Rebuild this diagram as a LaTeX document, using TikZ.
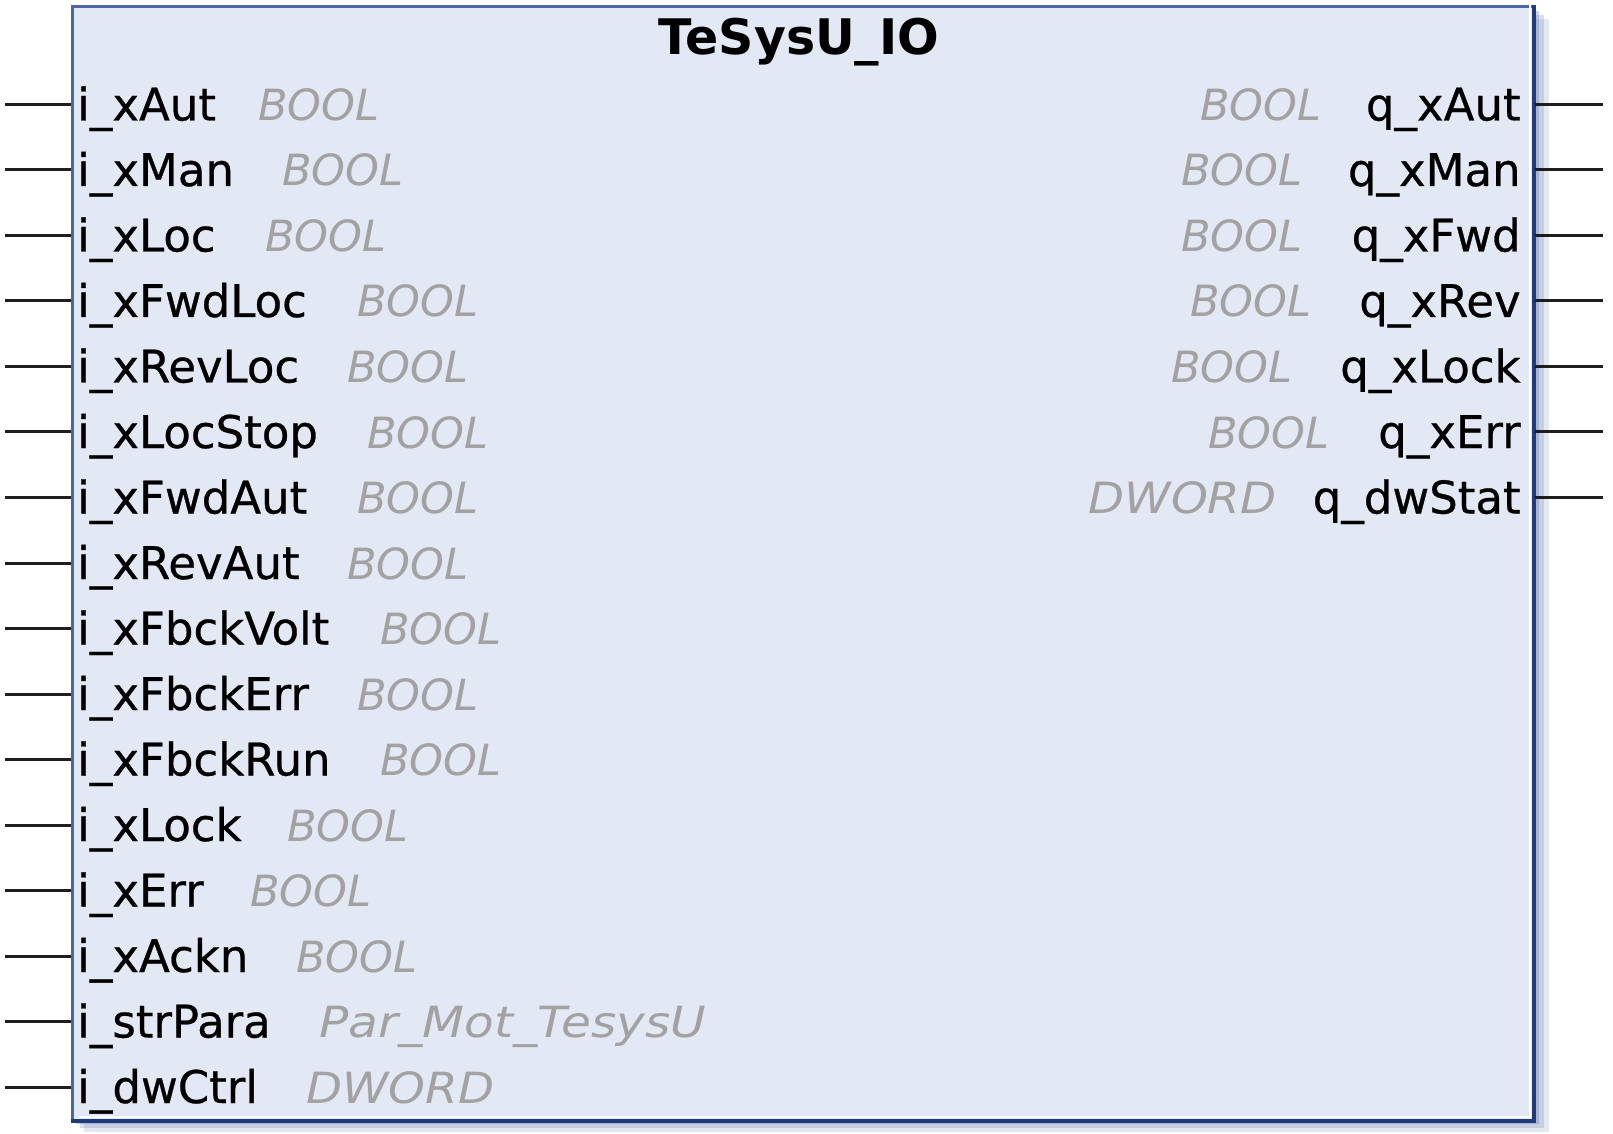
\documentclass[tikz,border=0pt]{standalone}
\usepackage{fontspec}
\setmainfont{DejaVu Sans}
\newfontfamily\namefont[FakeBold=0.6]{DejaVu Sans}
\definecolor{boxfill}{HTML}{E2E8F4}
\definecolor{borderlt}{HTML}{4A68A6}
\definecolor{borderdk}{HTML}{1F3C7A}
\definecolor{shadowc}{HTML}{6A80B0}
\definecolor{typegray}{HTML}{A2A2A2}
\definecolor{stubc}{HTML}{1E1E1E}
\tikzset{
  pinname/.style={font=\namefont\fontsize{22.5}{27}\selectfont, text=black, inner sep=0pt},
  pintype/.style={font=\itshape\fontsize{21.5}{26}\selectfont, text=typegray, inner sep=0pt},
  stub/.style={draw=stubc, line width=1.5pt},
  fbbox/.style={draw=borderlt, line width=1.5pt, fill=boxfill, minimum width=730.5pt, minimum height=556.5pt, inner sep=0pt}
}
\newcommand{\wdr}[1]{\scalebox{1.09}[1]{#1}}
\newcommand{\wpar}[1]{\scalebox{1.13}[1]{#1}}
\begin{document}
\begin{tikzpicture}[x=0.5pt,y=-0.5pt]
\useasboundingbox (0,0) rectangle (1613,1134);
% shadow
\fill[shadowc,opacity=0.18] (84,19) rectangle (1549,1132);
\fill[shadowc,opacity=0.25] (80,15) rectangle (1544,1128);
\fill[shadowc,opacity=0.35] (76,11) rectangle (1539,1124);
% box
\node[fbbox] (box) at (802.5,563.5) {};
\draw[white,line width=1pt] ([xshift=-2.2pt,yshift=4pt]box.north east) -- ([xshift=-2.2pt,yshift=2.2pt]box.south east) -- ([xshift=4pt,yshift=2.2pt]box.south west);
\draw[borderdk,line width=2.2pt] ([xshift=-0.3pt]box.north east) -- ([xshift=-0.3pt,yshift=0.3pt]box.south east) -- ([yshift=0.3pt]box.south west);
% title
\node[font=\bfseries\fontsize{24.5}{29}\selectfont, anchor=base, inner sep=0pt] (title) at (799,55) {TeSysU\_IO};
% inputs
\foreach \n/\t/\tx [count=\k from 0] in {
  i\_xAut/BOOL/258, i\_xMan/BOOL/282, i\_xLoc/BOOL/265, i\_xFwdLoc/BOOL/357,
  i\_xRevLoc/BOOL/347, i\_xLocStop/BOOL/367, i\_xFwdAut/BOOL/357, i\_xRevAut/BOOL/347,
  i\_xFbckVolt/BOOL/380, i\_xFbckErr/BOOL/357, i\_xFbckRun/BOOL/380, i\_xLock/BOOL/287,
  i\_xErr/BOOL/250, i\_xAckn/BOOL/296, i\_strPara/\wpar{Par\_Mot\_TesysU}/319, i\_dwCtrl/\wdr{DWORD}/306}{
  \pgfmathsetmacro\yy{104.5+65.5*\k}
  \pgfmathsetmacro\yb{\yy+16}
  \coordinate (l\k) at (5,\yy);
  \draw[stub] (l\k) -- (l\k -| box.west);
  \node[pinname, anchor=base west] (in\k) at (77,\yb) {\n};
  \node[pintype, anchor=base west] (it\k) at (\tx,\yb) {\t};
}
% outputs
\foreach \n/\t/\tx [count=\k from 0] in {
  q\_xAut/BOOL/1322, q\_xMan/BOOL/1303, q\_xFwd/BOOL/1303, q\_xRev/BOOL/1312,
  q\_xLock/BOOL/1293, q\_xErr/BOOL/1330, q\_dwStat/\wdr{DWORD}/1277}{
  \pgfmathsetmacro\yy{104.5+65.5*\k}
  \pgfmathsetmacro\yb{\yy+16}
  \coordinate (r\k) at (1603,\yy);
  \draw[stub] (r\k -| box.east) -- (r\k);
  \node[pinname, anchor=base east] (on\k) at (1521,\yb) {\n};
  \node[pintype, anchor=base east] (ot\k) at (\tx,\yb) {\t};
}
\end{tikzpicture}
\end{document}
